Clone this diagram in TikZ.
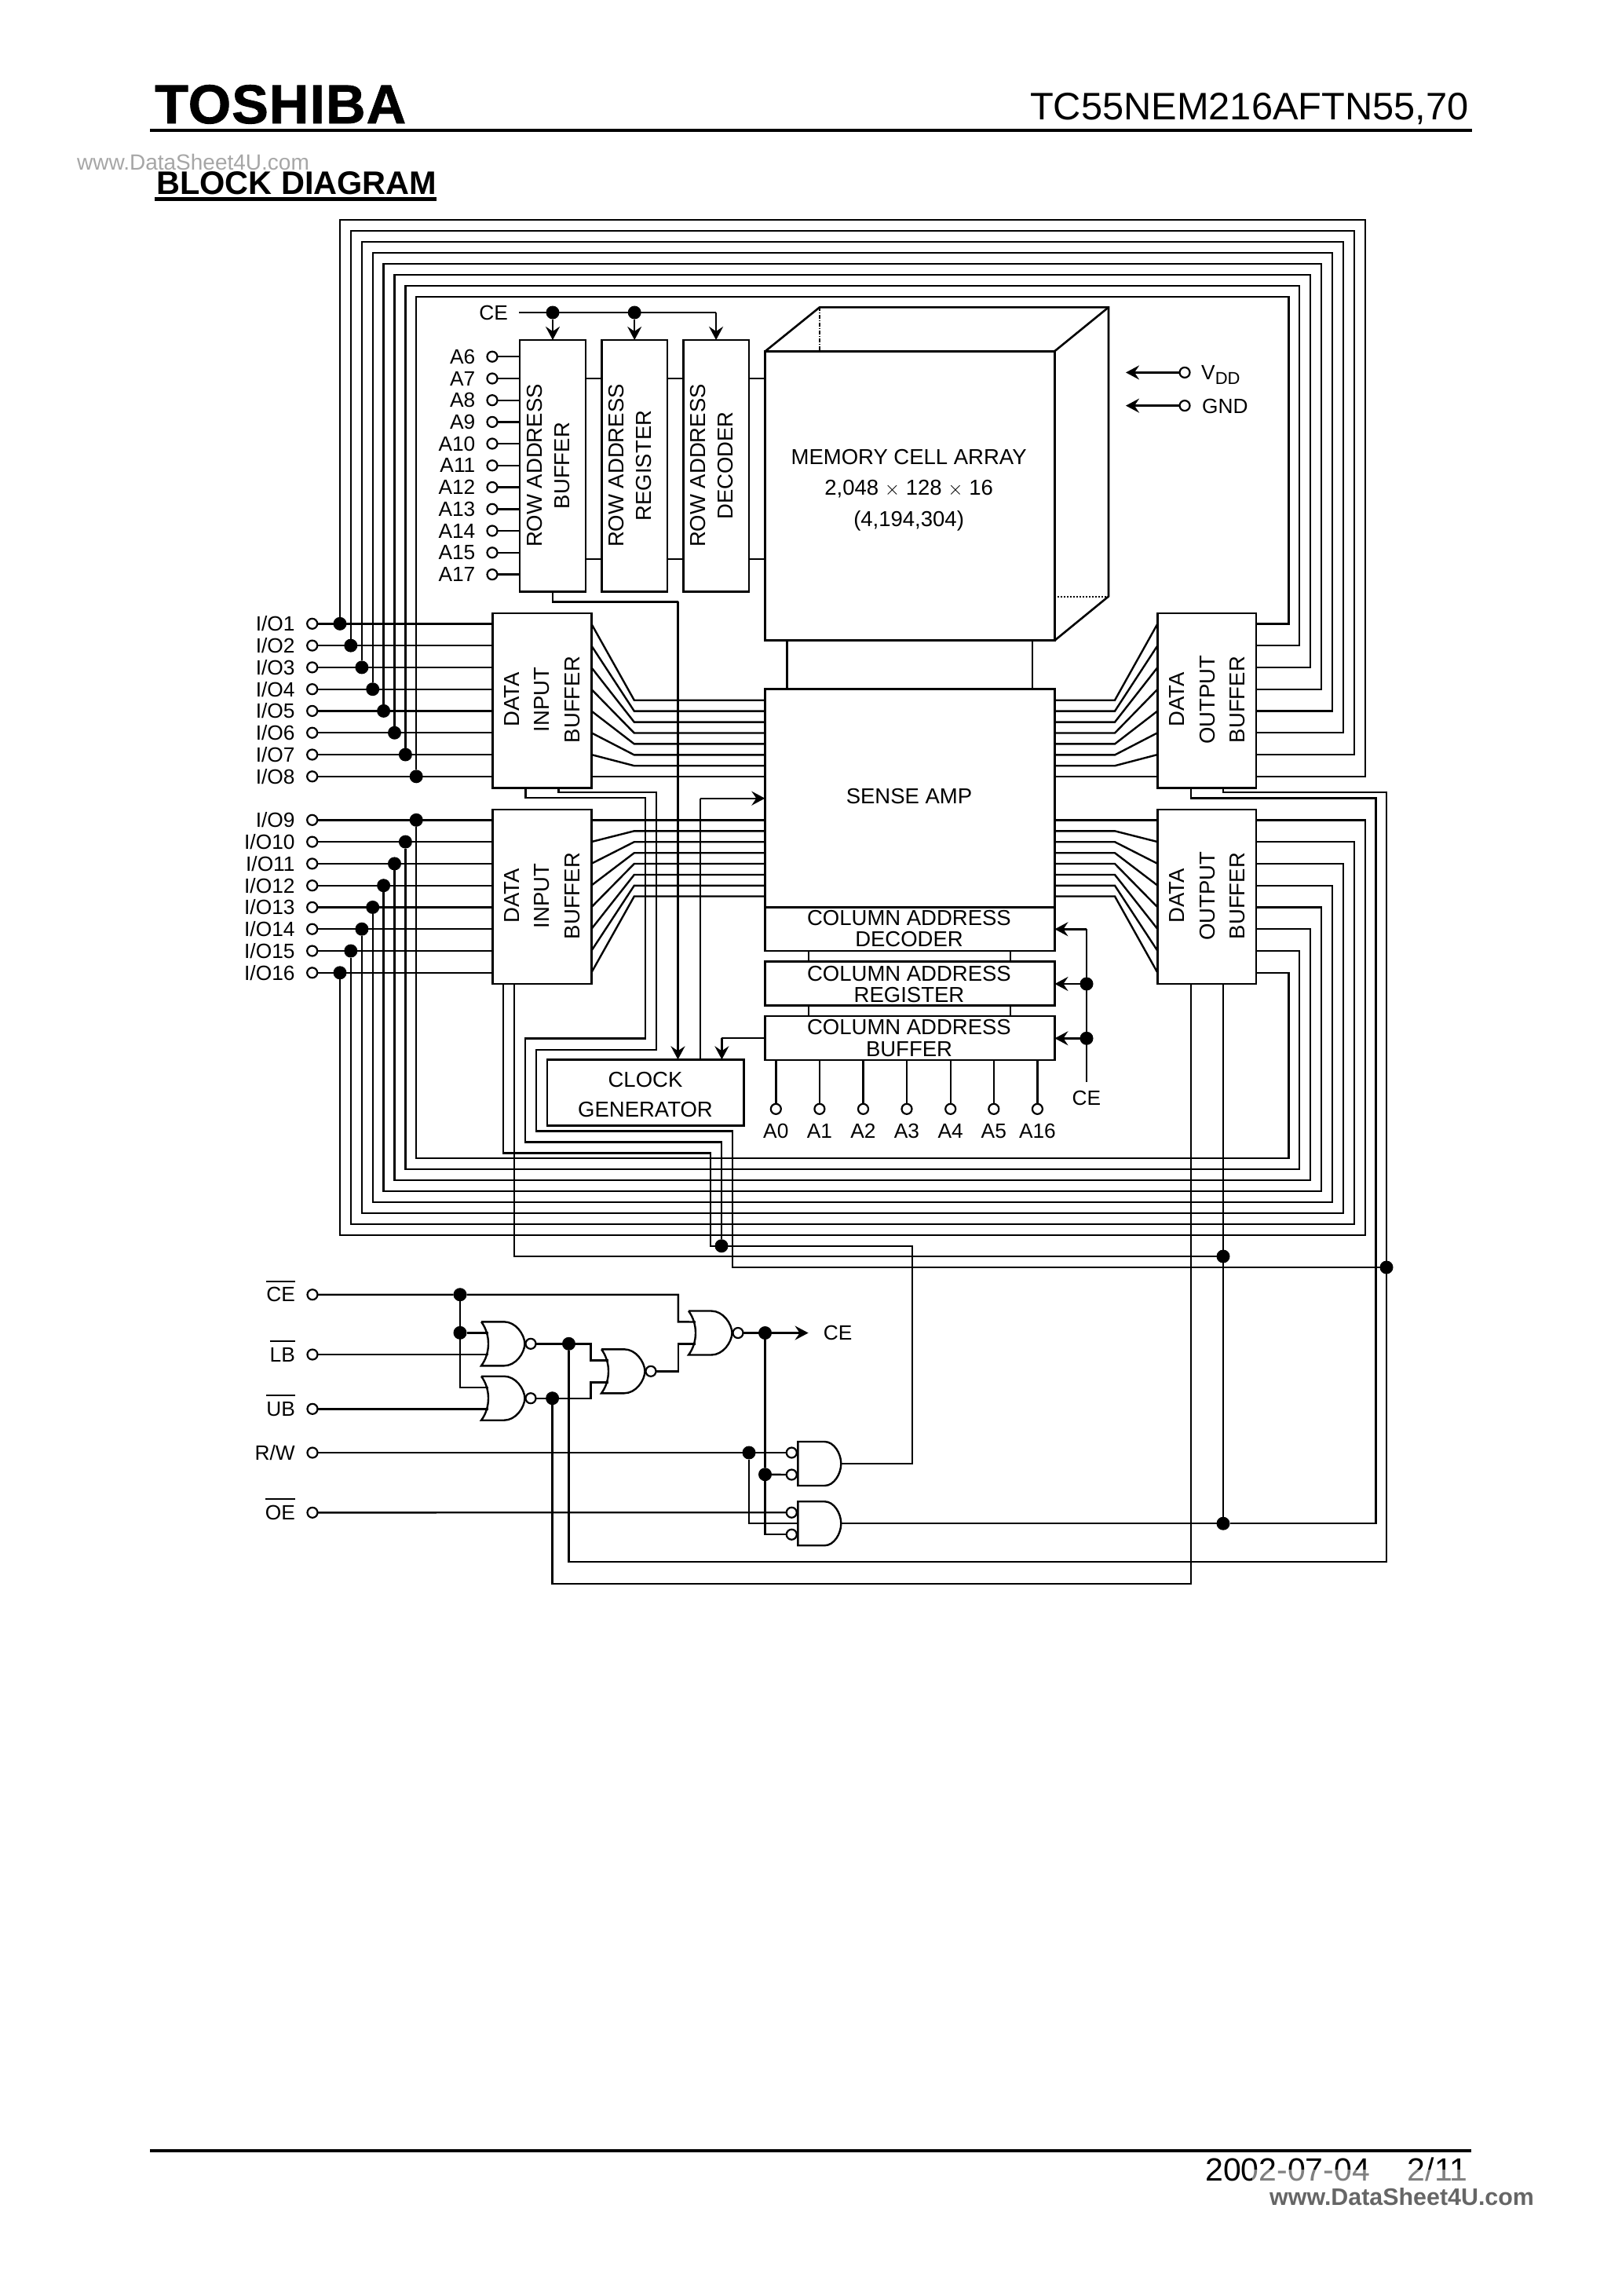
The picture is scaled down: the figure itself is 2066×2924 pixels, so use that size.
\documentclass[tikz,border=0pt]{standalone}
\usepackage{fontspec}
\setmainfont{Liberation Sans}
\newfontfamily\logofont[FakeBold=1.2,LetterSpace=1.5]{Liberation Sans Bold}
\usetikzlibrary{arrows.meta,positioning}
\newbox\barbox
\def\barred#1{\setbox\barbox\hbox{#1}\smash{\rlap{\raisebox{25pt}{\rule{\wd\barbox}{2.2pt}}}}\box\barbox}
\tikzset{
	wire/.style={line width=2.4pt},
	arr/.style={line width=2.4pt,-{Stealth[length=17pt,width=18pt,inset=6pt]}},
	blockbox/.style={draw,line width=2.6pt,inner sep=0pt,outer sep=0pt},
	pin/.style={circle,draw,fill=white,line width=2.2pt,minimum size=13pt,inner sep=0pt,outer sep=0pt},
	junct/.style={circle,fill=black,minimum size=17pt,inner sep=0pt,outer sep=0pt},
	smalltxt/.style={font=\fontsize{26.3}{28}\selectfont,inner sep=0pt},
	boxtxt/.style={font=\fontsize{27.5}{#1}\selectfont,inner sep=0pt,align=center},
	norgate/.pic={
		\draw[wire] (0,-28) -- (29,-28) .. controls (44,-28) and (55,-12) .. (55.5,0) .. controls (55,12) and (44,28) .. (29,28) -- (0,28) .. controls (12,12) and (12,-12) .. (0,-28);
		\node[pin] (-bub) at (63,0) {};
		\coordinate (-a) at (9,-14);
		\coordinate (-b) at (9,14);
		\coordinate (-out) at (70,0);
	},
	andgate/.pic={
		\draw[wire] (0,-28) -- (34,-28) .. controls (46,-28) and (55,-13) .. (55,0) .. controls (55,13) and (46,28) .. (34,28) -- (0,28) -- cycle;
		\node[pin] (-buba) at (-8,-14) {};
		\node[pin] (-bubb) at (-8,14) {};
		\coordinate (-a) at (-15,-14);
		\coordinate (-b) at (-15,14);
		\coordinate (-c) at (0,0);
		\coordinate (-out) at (55,0);
	},
}

\begin{document}
\begin{tikzpicture}[x=1pt,y=-1pt]
	%%%%% START %%%%%
	\useasboundingbox (0,0) rectangle (2066,2924);

	% header
	\node[anchor=base west,inner sep=0pt,text=black!35,font=\fontsize{28}{28}\selectfont] (wmtop) at (98,216) {www.DataSheet4U.com};
	\node[anchor=base west,inner sep=0pt,font=\logofont\fontsize{70}{70}\selectfont] (logo) at (197,157) {TOSHIBA};
	\node[anchor=base east,inner sep=0pt,font=\fontsize{48.8}{48}\selectfont] (partno) at (1871,152.5) {TC55NEM216AFTN55,70};
	\draw[line width=4pt] (191,166) -- (1875,166);
	\node[anchor=base west,inner sep=0pt,font=\bfseries\fontsize{41.5}{41}\selectfont] (title) at (199,247.6) {BLOCK DIAGRAM};
	\draw[line width=4.5pt] (197,253.5) -- (556,253.5);

	% blocks
	\node[blockbox,minimum width=84pt,minimum height=320.5pt] (rowbuf) at (704,593.2) {};
	\node[blockbox,minimum width=83.5pt,minimum height=320.5pt] (rowreg) at (808.2,593.2) {};
	\node[blockbox,minimum width=83.5pt,minimum height=320.5pt] (rowdec) at (912.1,593.2) {};
	\node[blockbox,minimum width=368.5pt,minimum height=368.4pt] (memarr) at (1159,631.5) {};
	\node[blockbox,minimum width=369.1pt,minimum height=278pt] (samp) at (1158.9,1016.7) {};
	\node[blockbox,minimum width=369.1pt,minimum height=55.3pt] (coldec) at (1158.9,1183.3) {};
	\node[blockbox,minimum width=369.1pt,minimum height=56pt] (colreg) at (1158.9,1252.7) {};
	\node[blockbox,minimum width=369.1pt,minimum height=56pt] (colbuf) at (1158.9,1322) {};
	\node[blockbox,minimum width=125.8pt,minimum height=222.7pt] (dibA) at (690.3,892.3) {};
	\node[blockbox,minimum width=125.8pt,minimum height=222pt] (dibB) at (690.3,1142) {};
	\node[blockbox,minimum width=125.5pt,minimum height=222.7pt] (dobA) at (1537.2,892.3) {};
	\node[blockbox,minimum width=125.5pt,minimum height=222pt] (dobB) at (1537.2,1142) {};
	\node[blockbox,minimum width=250.5pt,minimum height=84.4pt] (clkgen) at (822.2,1391.5) {};

	% block texts
	\node[boxtxt=35,rotate=90] (rowbuftxt) at (699,593) {ROW ADDRESS\\BUFFER};
	\node[boxtxt=35,rotate=90] (rowregtxt) at (803,593) {ROW ADDRESS\\REGISTER};
	\node[boxtxt=35,rotate=90] (rowdectxt) at (907,593) {ROW ADDRESS\\DECODER};
	\node[boxtxt=38.5,rotate=90] (dibAtxt) at (690.5,891) {DATA\\INPUT\\BUFFER};
	\node[boxtxt=38.5,rotate=90] (dibBtxt) at (690.5,1141) {DATA\\INPUT\\BUFFER};
	\node[boxtxt=38.5,rotate=90] (dobAtxt) at (1538,891) {DATA\\OUTPUT\\BUFFER};
	\node[boxtxt=38.5,rotate=90] (dobBtxt) at (1538,1141) {DATA\\OUTPUT\\BUFFER};
	\node[boxtxt=39.5] (memtxt) at (1157.6,624) {MEMORY CELL ARRAY\\2,048 $\times$ 128 $\times$ 16\\(4,194,304)};
	\node[boxtxt=28] (samptxt) at (1158,1014) {SENSE AMP};
	\node[boxtxt=27.3] (coldectxt) at (1158,1182.5) {COLUMN ADDRESS\\DECODER};
	\node[boxtxt=27.3] (colregtxt) at (1158,1253.5) {COLUMN ADDRESS\\REGISTER};
	\node[boxtxt=27.3] (colbuftxt) at (1158,1322) {COLUMN ADDRESS\\BUFFER};
	\node[boxtxt=37.7] (clktxt) at (822,1394) {CLOCK\\GENERATOR};

	% memory cell array, depth
	\coordinate (mbl) at (1044,391.3);
	\coordinate (mbr) at (1412,391.3);
	\coordinate (mbb) at (1412,759.5);
	\draw[line width=2.6pt] (memarr.north west) -- (mbl) -- (mbr) -- (mbb) -- (memarr.south east);
	\draw[line width=2.6pt] (memarr.north east) -- (mbr);
	\draw[line width=1.3pt,dash pattern=on 5pt off 2pt on 1pt off 2pt] (mbl) -- (mbl |- memarr.north);
	\draw[line width=2pt,dotted] (memarr.east |- mbb) -- (mbb);
	\draw[line width=2.4pt] (1002.5,815.7) -- (1002.5,877.7);
	\draw[line width=2.4pt] (1314.8,815.7) -- (1314.8,877.7);

	% row address
	\foreach \i/\yy in {6/454.2,7/482,8/509.7,9/537.4,10/565,11/592.8,12/620.5,13/648.3,14/676,15/703.8,17/731.6} {
		\node[pin] (ra\i) at (627,\yy) {};
		\node[smalltxt,left=15pt of ra\i] (lblra\i) {A\i};
		\draw[wire] (ra\i) -- (rowbuf.west |- ra\i);
	}
	\foreach \yy in {482.2,711.8} {
		\coordinate (rl) at (0,\yy);
		\draw[wire] (rowbuf.east |- rl) -- (rowreg.west |- rl);
		\draw[wire] (rowreg.east |- rl) -- (rowdec.west |- rl);
		\draw[wire] (rowdec.east |- rl) -- (memarr.west |- rl);
	}
	\node[smalltxt,anchor=east] (lblcea) at (647,398) {CE};
	\coordinate (cestart) at (661,398);
	\coordinate (ceend) at (rowdec.north |- cestart);
	\node[junct] (jcea) at (rowbuf.north |- cestart) {};
	\node[junct] (jceb) at (rowreg.north |- cestart) {};
	\draw[wire] (cestart) -- (ceend);
	\draw[arr] (jcea) -- (rowbuf.north);
	\draw[arr] (jceb) -- (rowreg.north);
	\draw[arr] (ceend) -- (rowdec.north);

	% VDD and GND
	\node[pin] (vdd) at (1509,474.4) {};
	\node[pin] (gnd) at (1509,516.6) {};
	\coordinate (vddend) at (1434,474.4);
	\coordinate (gndend) at (1434,516.6);
	\draw[arr] (vdd) -- (vddend);
	\draw[arr] (gnd) -- (gndend);
	\node[smalltxt,anchor=west] (lblvdd) at (1530,477) {V\raisebox{-6pt}{\fontsize{22}{22}\selectfont DD}};
	\node[smalltxt,anchor=west] (lblgnd) at (1531,517) {GND};

	% I/O pins, input side
	\foreach \i/\yy/\xb in {1/794.3/433,2/822.1/446.8,3/849.9/460.9,4/877.7/474.7,5/905.4/488.6,6/933.2/502.5,7/961/516.4,8/988.8/530.2} {
		\node[pin] (io\i) at (397.7,\yy) {};
		\node[smalltxt,left=15.5pt of io\i] (lblio\i) {I/O\i};
		\node[junct] (jio\i) at (\xb,\yy) {};
		\draw[wire] (io\i) -- (dibA.west |- io\i);
	}
	\foreach \i/\yy/\xb in {9/1044.3/530.2,10/1072.1/516.4,11/1099.9/502.5,12/1127.7/488.6,13/1155.4/474.7,14/1183.2/460.9,15/1211/446.8,16/1238.8/433} {
		\node[pin] (io\i) at (397.7,\yy) {};
		\node[smalltxt,left=15.5pt of io\i] (lblio\i) {I/O\i};
		\node[junct] (jio\i) at (\xb,\yy) {};
		\draw[wire] (io\i) -- (dibB.west |- io\i);
	}

	% data bus loops round the blocks
	\foreach \i/\yt/\xr [evaluate=\i as \j using int(9-\i)] in {1/280.2/1739,2/294.1/1725,3/308.1/1711,4/322/1697,5/336/1683.2,6/350/1669.2,7/364/1655.2,8/378/1641.3} {
		\coordinate (bust\i) at (\xr,\yt);
		\draw[wire] (jio\i) |- (bust\i) |- (dobA.east |- io\j);
	}
	\foreach \i/\yb/\xr [evaluate=\i as \j using int(25-\i)] in {16/1572.7/1739,15/1558.8/1725,14/1544.8/1711,13/1530.8/1697,12/1516.8/1683.2,11/1503/1669.2,10/1489/1655.2,9/1475/1641.3} {
		\coordinate (busb\i) at (\xr,\yb);
		\draw[wire] (jio\i) |- (busb\i) |- (dobB.east |- io\j);
	}

	% lines to and from the sense amp
	\foreach \i/\yy in {1/891.7,2/905.6,3/919.6,4/933.5,5/947.4,6/961.4,7/975.2,8/988.8} {
		\coordinate (bl\i) at (807.8,\yy);
		\coordinate (br\i) at (1420,\yy);
		\draw[wire] (dibA.east |- io\i) -- (bl\i) -- (samp.west |- bl\i);
		\draw[wire] (samp.east |- br\i) -- (br\i) -- (dobA.west |- io\i);
	}
	\foreach \i/\yy in {9/1044.3,10/1058.3,11/1072.2,12/1086.2,13/1100,14/1114,15/1127.8,16/1141.5} {
		\coordinate (bl\i) at (807.8,\yy);
		\coordinate (br\i) at (1420,\yy);
		\draw[wire] (dibB.east |- io\i) -- (bl\i) -- (samp.west |- bl\i);
		\draw[wire] (samp.east |- br\i) -- (br\i) -- (dobB.west |- io\i);
	}

	% column address
	\foreach \xx in {1030,1286.7} {
		\coordinate (cl) at (\xx,0);
		\draw[wire] (coldec.south -| cl) -- (colreg.north -| cl);
	}
	\foreach \xx in {1030,1286.7} {
		\coordinate (cl) at (\xx,0);
		\draw[wire] (colreg.south -| cl) -- (colbuf.north -| cl);
	}
	\foreach \i/\xx in {0/988.3,1/1043.9,2/1099.5,3/1155,4/1210.7,5/1265.8,16/1321.4} {
		\node[pin] (ca\i) at (\xx,1412.3) {};
		\node[smalltxt,below=12pt of ca\i] (lblca\i) {A\i};
		\draw[wire] (ca\i) -- (ca\i |- colbuf.south);
	}
	\node[smalltxt] (lblceb) at (1384,1398.5) {CE};
	\coordinate (cetop) at (1384,1183.3);
	\coordinate (cebot) at (1384,1378.3);
	\node[junct] (jceg) at (1384,1253) {};
	\node[junct] (jceh) at (1384,1322.3) {};
	\draw[wire] (cetop) -- (cebot);
	\draw[arr] (cetop) -- (coldec.east |- cetop);
	\draw[arr] (jceg) -- (colreg.east |- jceg);
	\draw[arr] (jceh) -- (colbuf.east |- jceh);

	% clock generator
	\coordinate (rbd) at (704,766.4);
	\coordinate (rbe) at (863.5,766.4);
	\draw[wire] (rowbuf.south) -- (rbd) -- (rbe);
	\draw[arr] (rbe) -- (rbe |- clkgen.north);
	\coordinate (cka) at (892,1016.7);
	\draw[wire] (cka |- clkgen.north) -- (cka);
	\draw[arr] (cka) -- (samp.west |- cka);
	\coordinate (ckb) at (919.4,1322.2);
	\draw[wire] (colbuf.west |- ckb) -- (ckb);
	\draw[arr] (ckb) -- (ckb |- clkgen.north);

	% pins of the control logic
	\foreach \n/\txt/\yy in {ce/{\barred{CE}}/1648.7,lb/{\barred{LB}}/1725,ub/{\barred{UB}}/1794.3,rw/{R/W}/1850,oe/{\barred{OE}}/1926.3} {
		\node[pin] (p\n) at (398,\yy) {};
		\node[smalltxt,left=15.5pt of p\n] (lbl\n) {\txt};
	}
	\pic (nora) at (613,1711.3) {norgate};
	\pic (norb) at (613,1780.7) {norgate};
	\pic (norc) at (766,1746.3) {norgate};
	\pic (nord) at (877,1697.5) {norgate};
	\pic (anda) at (1016.3,1864) {andgate};
	\pic (andb) at (1016.3,1940.2) {andgate};

	\node[junct] (jce) at (586,1648.7) {};
	\node[junct] (jnora) at (586,1697.3) {};
	\node[junct] (jax) at (724.5,1711.3) {};
	\node[junct] (jbx) at (703.6,1780.7) {};
	\node[junct] (jrw) at (954,1850) {};
	\node[junct] (jceo) at (974.5,1697.5) {};
	\node[junct] (jcei) at (974.5,1877.7) {};
	\node[junct] (jibx) at (919,1586.7) {};
	\node[junct] (jiby) at (1558,1600) {};
	\node[junct] (jobz) at (1766,1614) {};
	\node[junct] (joe) at (1558,1940.2) {};

	\draw[wire] (pce) -- (jce) -| (863.8,1683.3) -- (nord-a);
	\draw[wire] (jce) -- (jce |- norb-a) -- (norb-a);
	\draw[wire] (jnora) -- (nora-a);
	\draw[wire] (plb) -- (plb -| nora-b);
	\draw[wire] (pub) -- (pub -| norb-b);
	\draw[wire] (nora-out) -- (752.5,1711.3) |- (norc-a);
	\draw[wire] (norb-out) -- (752.5,1780.7) |- (norc-b);
	\draw[wire] (norc-out) -- (863.8,1746.3) |- (nord-b);
	\coordinate (ceout) at (1029.6,1697.5);
	\draw[arr] (nord-out) -- (ceout);
	\node[smalltxt,right=19pt of ceout] (lblcec) {CE};
	\draw[wire] (prw) -- (anda-a);
	\draw[wire] (poe) -- (andb-a);
	\draw[wire] (jrw) |- (andb-c);
	\draw[wire] (jceo) -- (jcei) |- (andb-b);
	\draw[wire] (jcei) -- (anda-b);

	% control lines up to the buffers
	\draw[wire] (anda-out) -| (1162,1586.7) -- (905,1586.7) |- (641,1468.3) -- (dibB.south -| 641,0);
	\draw[wire] (dibB.south -| 655,0) |- (jiby);
	\draw[wire] (andb-out) -- (joe) -| (1752.5,1016.3) -- (1516.8,1016.3) -- (dobA.south -| 1516.8,0);
	\draw[wire] (dobA.south -| 1558,0) |- (1766,1009) -- (1766,1989) -| (jax);
	\draw[wire] (dobB.south -| 1558,0) -- (joe);
	\draw[wire] (dobB.south -| 1516.8,0) -- (1516.8,2016.7) -| (jbx);
	\draw[wire] (dibA.south -| 669.5,0) |- (821.8,1016.2) |- (669,1322.3) |- (919,1454.3) -- (jibx);
	\draw[wire] (dibA.south -| 711.6,0) |- (836.2,1009) |- (683,1336.7) |- (933,1440.3) |- (jobz);

	% footer
	\node[anchor=base west,inner sep=0pt,font=\fontsize{41}{41}\selectfont] (datetxt) at (1535,2777) {2002-07-04\hspace{48pt}2/11};
	\draw[line width=4pt] (191,2739) -- (1874,2739);
	\fill[white,opacity=.5] (1595,2763) rectangle (1970,2782);
	\node[anchor=base west,inner sep=0pt,text=black!60,font=\bfseries\fontsize{30.4}{30}\selectfont] (wmbot) at (1617,2808) {www.DataSheet4U.com};

	%%%%% END %%%%%
\end{tikzpicture}
\end{document}
